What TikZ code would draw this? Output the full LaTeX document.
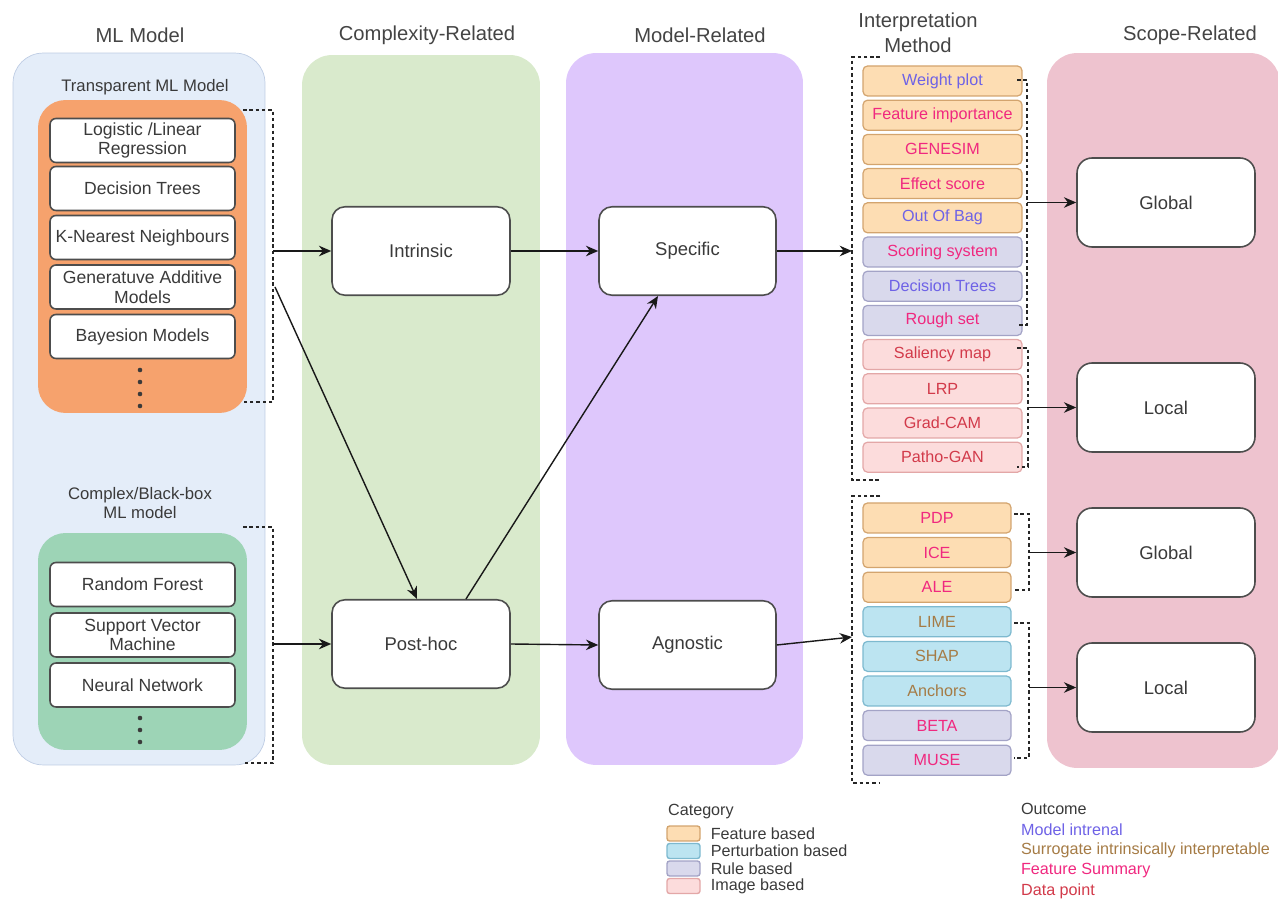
\documentclass[tikz,border=0pt]{standalone}
\usepackage{fontspec}
\setmainfont{Liberation Sans}
\usetikzlibrary{arrows.meta,positioning}

\definecolor{mlfill}{HTML}{E4EDF9}
\definecolor{mlline}{HTML}{BFCDE4}
\definecolor{cxfill}{HTML}{D9EACC}
\definecolor{mdfill}{HTML}{DEC7FC}
\definecolor{scfill}{HTML}{EEC3CF}
\definecolor{orgfill}{HTML}{F6A26D}
\definecolor{grnfill}{HTML}{9DD4B6}
\definecolor{boxline}{HTML}{4D4D4D}
\definecolor{txtgray}{HTML}{3A3A3A}
\definecolor{headgray}{HTML}{444444}
\definecolor{featfill}{HTML}{FDDDB3}
\definecolor{featline}{HTML}{D3A46E}
\definecolor{pertfill}{HTML}{BCE4F1}
\definecolor{pertline}{HTML}{7DB9CF}
\definecolor{rulefill}{HTML}{D9D9EC}
\definecolor{ruleline}{HTML}{A3A3C6}
\definecolor{imgfill}{HTML}{FCDCDC}
\definecolor{imgline}{HTML}{E3A7A7}
\definecolor{ocmodel}{HTML}{6E62E6}
\definecolor{ocsurr}{HTML}{A57B45}
\definecolor{ocfeat}{HTML}{F0287F}
\definecolor{ocdata}{HTML}{D23A4A}

\tikzset{
  colbox/.style={rounded corners=0.6cm, inner sep=0pt},
  head/.style={text=headgray, font=\fontsize{11.5}{14}\selectfont, align=center},
  grplabel/.style={text=txtgray, font=\fontsize{9.5}{11.3}\selectfont, align=center},
  grpbox/.style={rounded corners=0.55cm, minimum width=4.18cm, inner sep=0pt},
  mlbox/.style={draw=boxline, fill=white, line width=0.9pt, rounded corners=0.12cm, minimum width=3.7cm, minimum height=0.88cm, inner sep=1pt, align=center, text=txtgray, font=\fontsize{10}{11.3}\selectfont},
  catbox/.style={draw=boxline, fill=white, line width=0.9pt, rounded corners=0.26cm, minimum width=3.56cm, minimum height=1.77cm, text=txtgray, font=\fontsize{10.5}{12}\selectfont},
  imeth/.style={rounded corners=0.09cm, line width=0.7pt, minimum height=0.6cm, inner sep=0pt, font=\fontsize{9.2}{11}\selectfont},
  featcat/.style={fill=featfill, draw=featline},
  pertcat/.style={fill=pertfill, draw=pertline},
  rulecat/.style={fill=rulefill, draw=ruleline},
  imgcat/.style={fill=imgfill, draw=imgline},
  brk/.style={draw=black!85, line width=0.6pt, dash pattern=on 2pt off 1.6pt},
  arr/.style={draw=black!90, line width=0.8pt, -{Stealth[length=7pt,width=6pt]}},
  legtxt/.style={text=txtgray, font=\fontsize{9.2}{11}\selectfont, inner sep=1pt},
  swatch/.style={minimum width=0.66cm, minimum height=0.3cm, rounded corners=1.5pt, line width=0.8pt, inner sep=0pt}
}

\begin{document}
\begin{tikzpicture}[x=0.02cm, y=-0.02cm]
\useasboundingbox (0,0) rectangle (1278,901);

% columns
\node[colbox, fill=mlfill, draw=mlline, minimum width=5.04cm, minimum height=14.24cm] (mlcol) at (139,409) {};
\node[colbox, fill=cxfill, minimum width=4.76cm, minimum height=14.2cm] (cxcol) at (421,410) {};
\node[colbox, fill=mdfill, minimum width=4.74cm, minimum height=14.24cm] (mdcol) at (684.5,409) {};
\node[colbox, fill=scfill, minimum width=4.66cm, minimum height=14.3cm] (sccol) at (1163.5,410.5) {};

\node[head] (hml) at (140,35) {ML Model};
\node[head] (hcx) at (427,35) {Complexity-Related};
\node[head] (hmd) at (700,35) {Model-Related};
\node[head] (him) at (918,33) {Interpretation\\Method};
\node[head] (hsc) at (1190,35) {Scope-Related};

% transparent models
\node[grplabel] (tlab) at (145,87) {Transparent ML Model};
\node[grpbox, fill=orgfill, minimum height=6.26cm] (tgrp) at (142.5,256.5) {};
\node[mlbox] (lr) at (142.5,140.5) {Logistic /Linear\\Regression};
\node[mlbox] (dtr) at (142.5,188.5) {Decision Trees};
\node[mlbox] (knn) at (142.5,237.5) {K-Nearest Neighbours};
\node[mlbox] (gam) at (142.5,287) {Generatuve Additive\\Models};
\node[mlbox] (bay) at (142.5,336.5) {Bayesion Models};
\foreach \yy in {370,382,394,406}
  \fill[txtgray] (140,\yy) circle (1.3pt);

% black-box models
\node[grplabel] (clab) at (140,503) {Complex/Black-box\\ML model};
\node[grpbox, fill=grnfill, minimum height=4.34cm] (cgrp) at (142.5,641.5) {};
\node[mlbox] (rf) at (142.5,584.5) {Random Forest};
\node[mlbox] (svm) at (142.5,635) {Support Vector\\Machine};
\node[mlbox] (nn) at (142.5,685) {Neural Network};
\foreach \yy in {718,730,742}
  \fill[txtgray] (140,\yy) circle (1.3pt);

\draw[brk] (243,110) -| (273,402) -- (243,402);
\draw[brk] (243,527) -| (273,763) -- (243,763);
\coordinate (tb) at (273,251);
\coordinate (tbd) at (275,287);
\coordinate (cb) at (273,644);

% complexity / model
\node[catbox] (intr) at (421,251) {Intrinsic};
\node[catbox] (post) at (421,644) {Post-hoc};
\node[catbox, minimum width=3.54cm] (spec) at (687.5,251) {Specific};
\node[catbox, minimum width=3.54cm] (agn) at (687.5,645) {Agnostic};

\draw[arr] (tb) -- (intr.west);
\draw[arr] (tbd) -- ([xshift=-0.08cm]post.north);
\draw[arr] (cb) -- (post.west);
\draw[arr] (intr.east) -- (spec.west);
\draw[arr] (post.east) -- (agn.west);
\draw[arr] ([xshift=0.9cm]post.north) -- ([xshift=-0.59cm]spec.south);

% interpretation methods
\foreach \nm/\yy/\cat/\oc/\txt in {wp/81/featcat/ocmodel/Weight plot,
    fi/115.2/featcat/ocfeat/Feature importance,
    gen/149.4/featcat/ocfeat/GENESIM,
    es/183.6/featcat/ocfeat/Effect score,
    oob/217.8/featcat/ocmodel/Out Of Bag,
    ss/252/rulecat/ocfeat/Scoring system,
    dt/286.2/rulecat/ocmodel/Decision Trees,
    rs/320.4/rulecat/ocfeat/Rough set,
    sm/354.6/imgcat/ocdata/Saliency map,
    lrp/388.8/imgcat/ocdata/LRP,
    gc/423/imgcat/ocdata/Grad-CAM,
    pg/457.2/imgcat/ocdata/Patho-GAN}
  \node[imeth, \cat, text=\oc, minimum width=3.18cm] (\nm) at (942.5,\yy) {\txt};
\foreach \nm/\yy/\cat/\oc/\txt in {pdp/518/featcat/ocfeat/PDP,
    ice/552.6/featcat/ocfeat/ICE,
    ale/587.2/featcat/ocfeat/ALE,
    lime/621.8/pertcat/ocsurr/LIME,
    shap/656.4/pertcat/ocsurr/SHAP,
    anc/691/pertcat/ocsurr/Anchors,
    beta/725.6/rulecat/ocfeat/BETA,
    muse/760.2/rulecat/ocfeat/MUSE}
  \node[imeth, \cat, text=\oc, minimum width=2.96cm] (\nm) at (937,\yy) {\txt};

\draw[brk] (880,57) -| (852,480) -- (880,480);
\draw[brk] (880,496) -| (852,783) -- (880,783);
\coordinate (ia) at (852,251);
\coordinate (ib) at (852,637);
\draw[arr] (spec.east) -- (ia);
\draw[arr] (agn.east) -- (ib);

\draw[brk] (1017,80) -| (1027,325) -- (1017,325);
\draw[brk] (1017,348) -| (1028,467) -- (1017,467);
\draw[brk] (1014,514) -| (1029,590) -- (1014,590);
\draw[brk] (1014,623) -| (1029,758) -- (1014,758);
\coordinate (rg1) at (1027,202.5);
\coordinate (rl1) at (1028,407.5);
\coordinate (rg2) at (1029,552.5);
\coordinate (rl2) at (1029,687.5);

% scope
\node[catbox, rounded corners=0.3cm, minimum height=1.78cm] (glob1) at (1166,202.5) {Global};
\node[catbox, rounded corners=0.3cm, minimum height=1.78cm] (loc1) at (1166,407.5) {Local};
\node[catbox, rounded corners=0.3cm, minimum height=1.78cm] (glob2) at (1166,552.5) {Global};
\node[catbox, rounded corners=0.3cm, minimum height=1.78cm] (loc2) at (1166,687.5) {Local};
\draw[arr] (rg1) -- (glob1.west);
\draw[arr] (rl1) -- (loc1.west);
\draw[arr] (rg2) -- (glob2.west);
\draw[arr] (rl2) -- (loc2.west);

% legend
\node[legtxt, anchor=west] (lcat) at (666,812) {Category};
\node[swatch, featcat] (sw1) at (683.5,833.5) {};
\node[swatch, pertcat] (sw2) at (683.5,851) {};
\node[swatch, rulecat] (sw3) at (683.5,868.5) {};
\node[swatch, imgcat] (sw4) at (683.5,886) {};
\node[legtxt, right=0.16cm of sw1] (lg1) {Feature based};
\node[legtxt, right=0.16cm of sw2] (lg2) {Perturbation based};
\node[legtxt, right=0.16cm of sw3] (lg3) {Rule based};
\node[legtxt, right=0.16cm of sw4] (lg4) {Image based};

\node[legtxt, anchor=west] (lout) at (1019,809) {Outcome};
\node[legtxt, anchor=west, text=ocmodel] (lo1) at (1019,829.5) {Model intrenal};
\node[legtxt, anchor=west, text=ocsurr] (lo2) at (1019,850) {Surrogate intrinsically interpretable};
\node[legtxt, anchor=west, text=ocfeat] (lo3) at (1019,870.5) {Feature Summary};
\node[legtxt, anchor=west, text=ocdata] (lo4) at (1019,891) {Data point};
\end{tikzpicture}
\end{document}
